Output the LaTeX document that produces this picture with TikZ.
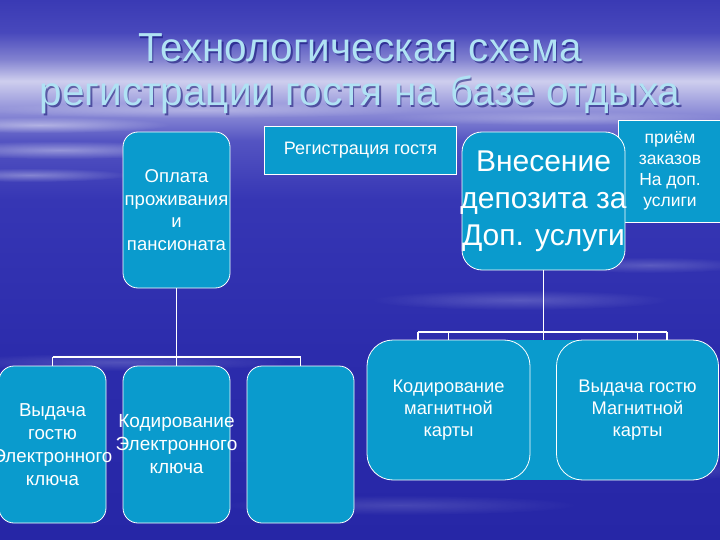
\documentclass[tikz,border=0pt]{standalone}
\usepackage{fontspec}
\setmainfont{Liberation Sans}
\usetikzlibrary{fadings}
\definecolor{teal1}{RGB}{10,155,205}
\definecolor{titlec}{RGB}{176,226,244}
\pgfdeclareverticalshading{bgshade}{100bp}{%
color(0bp)=({rgb,255:red,38;green,38;blue,166});
color(25bp)=({rgb,255:red,38;green,38;blue,166});
color(42.5bp)=({rgb,255:red,44;green,44;blue,172});
color(56.5bp)=({rgb,255:red,54;green,54;blue,180});
color(62bp)=({rgb,255:red,84;green,84;blue,194});
color(65.5bp)=({rgb,255:red,160;green,160;blue,222});
color(67.5bp)=({rgb,255:red,206;green,206;blue,238});
color(69.5bp)=({rgb,255:red,130;green,130;blue,208});
color(72bp)=({rgb,255:red,72;green,72;blue,188});
color(75bp)=({rgb,255:red,58;green,58;blue,180});
color(100bp)=({rgb,255:red,58;green,58;blue,180})}
\tikzfading[name=softoval, inner color=transparent!0, outer color=transparent!100]
\tikzset{
  rbox/.style={draw=white, line width=0.8pt, fill=teal1, rounded corners=#1,
     inner sep=0pt},
  sbox/.style={draw=white, line width=0.8pt, fill=teal1, inner sep=0pt},
  btxt/.style={text=white, align=center, inner sep=0pt},
  conn/.style={draw=white, line width=1.6pt},
  streak/.style={fill=white, fill opacity=#1, path fading=softoval},
  ttl/.style={text=titlec, font=\fontsize{40.5}{48}\selectfont, inner sep=0pt},
  ttlsh/.style={text=black!60!blue, opacity=0.5, font=\fontsize{40.5}{48}\selectfont, inner sep=0pt}
}
\begin{document}
\begin{tikzpicture}[x=1pt,y=-1pt]
\useasboundingbox (0,0) rectangle (720,540);
% background
\shade[shading=bgshade] (0,0) rectangle (720,540);
\fill[streak=0.45] (40,125) ellipse [x radius=130, y radius=8];
\fill[streak=0.40] (60,150) ellipse [x radius=140, y radius=9];
\fill[streak=0.35] (30,175) ellipse [x radius=100, y radius=7];
\fill[streak=0.30] (200,110) ellipse [x radius=220, y radius=8];
\fill[streak=0.25] (560,118) ellipse [x radius=180, y radius=7];
\fill[streak=0.20] (520,300) ellipse [x radius=150, y radius=10];
\fill[streak=0.20] (650,265) ellipse [x radius=100, y radius=8];
\fill[streak=0.18] (120,362) ellipse [x radius=170, y radius=9];
\fill[streak=0.15] (400,505) ellipse [x radius=180, y radius=10];
\fill[streak=0.15] (660,470) ellipse [x radius=110, y radius=10];
% title
\node[ttlsh] (t1s) at (361.5,49.5) {Технологическая схема};
\node[ttlsh] (t2s) at (361.5,96.5) {регистрации гостя на базе отдыха};
\node[ttl] (t1) at (360,48) {Технологическая схема};
\node[ttl] (t2) at (360,95) {регистрации гостя на базе отдыха};
% top boxes
\node[rbox=15pt, minimum width=107pt, minimum height=156pt] (opl) at (176.5,210) {};
\node[btxt, font=\fontsize{18.5}{22.5}\selectfont] (oplt) at (opl.center)
      {Оплата\\проживания\\и\\пансионата};
\node[sbox, minimum width=192pt, minimum height=48pt] (reg) at (360.5,150) {};
\node[btxt, font=\fontsize{18}{20}\selectfont] (regt) at (reg.center) {Регистрация гостя};
\node[sbox, minimum width=104pt, minimum height=102pt] (pri) at (670,171) {};
\node[btxt, font=\fontsize{17.5}{21}\selectfont] (prit) at (pri.center)
      {приём\\заказов\\На доп.\\услиги};
\node[rbox=20pt, minimum width=163pt, minimum height=138pt] (dep) at (543.5,201) {};
\node[btxt, font=\fontsize{30}{37}\selectfont] (dept) at (dep.center)
      {Внесение\\депозита за\\Доп. услуги};
% bottom left boxes
\node[rbox=15pt, minimum width=107pt, minimum height=157pt] (a) at (52.5,444.5) {};
\node[btxt, font=\fontsize{18.7}{23}\selectfont] (at) at (a.center)
      {Выдача\\гостю\\Электронного\\ключа};
\node[rbox=15pt, minimum width=107pt, minimum height=157pt] (b) at (176.5,444.5) {};
\node[btxt, font=\fontsize{19}{23}\selectfont] (bt) at (b.center)
      {Кодирование\\Электронного\\ключа};
\node[rbox=15pt, minimum width=107pt, minimum height=157pt] (c) at (300.5,444.5) {};
% bottom right boxes
\fill[teal1] (505,340) rectangle (585,480);
\node[rbox=26pt, minimum width=163pt, minimum height=140pt] (d) at (448.5,410) {};
\node[btxt, font=\fontsize{18.3}{22}\selectfont] (dt) at (d.center)
      {Кодирование\\магнитной\\карты};
\node[rbox=26pt, minimum width=162pt, minimum height=140pt] (e) at (637.5,410) {};
\node[btxt, font=\fontsize{18.3}{22}\selectfont] (et) at (e.center)
      {Выдача гостю\\Магнитной\\карты};
% connectors left
\coordinate (j1) at (176.5,357);
\draw[conn] (opl.south) -- (j1);
\draw[conn] (a.north |- j1) -- (c.north |- j1);
\draw[conn] (a.north |- j1) -- (a.north);
\draw[conn] (j1) -- (b.north);
\draw[conn] (c.north |- j1) -- (c.north);
% connectors right
\coordinate (j2) at (543.5,332);
\coordinate (r1) at (418,332);
\coordinate (r2) at (667,332);
\draw[conn] (dep.south) -- (j2);
\draw[conn] (r1) -- (r2);
\draw[conn] (r1) -- (r1 |- d.north);
\draw[conn] (d.north |- j2) -- (d.north);
\draw[conn] (j2) -- (j2 |- d.north);
\draw[conn] (e.north |- j2) -- (e.north);
\draw[conn] (r2) -- (r2 |- e.north);
\end{tikzpicture}
\end{document}
